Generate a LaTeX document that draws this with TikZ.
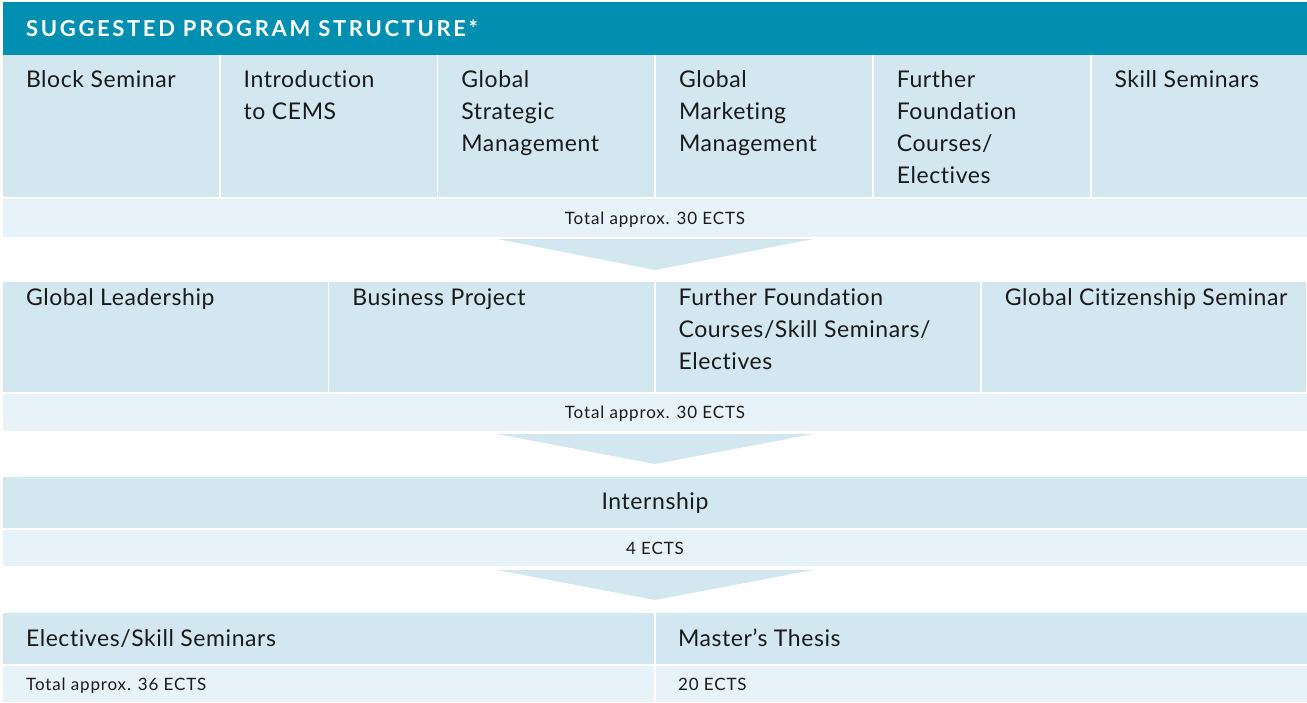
\documentclass[tikz,border=0pt]{standalone}
\usepackage{fontspec}
\setmainfont[Ligatures=NoCommon,LetterSpace=2.5]{Lato}
\newfontfamily\headfont[Ligatures=NoCommon,LetterSpace=12]{Lato}
\newfontfamily\smallfont[Ligatures=NoCommon,LetterSpace=5]{Lato}
\usetikzlibrary{positioning,calc}
\definecolor{cmHead}{HTML}{008EB1}
\definecolor{cmCell}{HTML}{D2E7F0}
\definecolor{cmTotal}{HTML}{E7F3F9}
\definecolor{cmInk}{HTML}{1A1A1A}
\newcommand{\bodysize}{\fontsize{23}{32}\selectfont}
\newcommand{\smallsize}{\smallfont\fontsize{17}{20}\selectfont}

\begin{document}
\begin{tikzpicture}[x=1pt,y=-1pt,
  box/.style={inner sep=0pt,outer sep=0pt,anchor=north west},
  cell/.style={box,fill=cmCell},
  total/.style={box,fill=cmTotal},
  lbl/.style={box,font=\bodysize,align=left,text=cmInk},
  sml/.style={inner sep=0pt,font=\smallsize,text=cmInk,anchor=base},
  chev/.style={fill=cmCell}
]
\useasboundingbox[fill=white] (0,0) rectangle (1307,702);
% header
\node[box,fill=cmHead,minimum width=1304pt,minimum height=53pt] (head) at (3,2) {};
\node[anchor=base west,inner sep=0pt,text=white,
      font=\headfont\bfseries\fontsize{22}{24}\selectfont] (title) at (26,36) {SUGGESTED PROGRAM STRUCTURE*};
% first block
\foreach \i/\txt in {0/{Block Seminar},1/{Introduction\\to CEMS},2/{Global\\Strategic\\Management},
                     3/{Global\\Marketing\\Management},4/{Further\\Foundation\\Courses/\\Electives},5/{Skill Seminars}}{
  \node[cell,minimum width=215.9pt,minimum height=142pt] (a\i) at (3+\i*217.7,55) {};
  \node[lbl] (at\i) at ($(a\i.north west)+(23,16)$) {\txt};
}
\node[total,minimum width=1304pt,minimum height=38pt] (s1) at (3,199) {};
\node[sml] (s1t) at ($(s1.center)+(0,6.3)$) {Total approx. 30 ECTS};
\fill[chev] ($(s1.south)+(-158,2)$) -- ($(s1.south)+(158,2)$) -- ($(s1.south)+(0,33)$) -- cycle;
% second block
\foreach \i/\txt in {0/{Global Leadership},1/{Business Project},
                     2/{Further Foundation\\Courses/Skill Seminars/\\Electives},3/{Global Citizenship Seminar}}{
  \node[cell,minimum width=324.5pt,minimum height=110pt] (b\i) at (3+\i*326.3,282) {};
  \node[lbl] (bt\i) at ($(b\i.north west)+(23,7)$) {\txt};
}
\node[total,minimum width=1304pt,minimum height=37pt] (s2) at (3,394) {};
\node[sml] (s2t) at ($(s2.center)+(0,6.3)$) {Total approx. 30 ECTS};
\fill[chev] ($(s2.south)+(-158,3)$) -- ($(s2.south)+(158,3)$) -- ($(s2.south)+(0,33)$) -- cycle;
% internship
\node[cell,minimum width=1304pt,minimum height=51pt] (c0) at (3,477) {};
\node[lbl,anchor=base] (ct0) at ($(c0.center)+(0,6.5)$) {Internship};
\node[total,minimum width=1304pt,minimum height=36pt] (s3) at (3,530) {};
\node[sml] (s3t) at ($(s3.center)+(0,6.3)$) {4 ECTS};
\fill[chev] ($(s3.south)+(-158,4)$) -- ($(s3.south)+(158,4)$) -- ($(s3.south)+(0,34)$) -- cycle;
% last block
\node[cell,minimum width=651pt,minimum height=51pt] (d0) at (3,613) {};
\node[cell,minimum width=651pt,minimum height=51pt] (d1) at (656,613) {};
\node[lbl,anchor=base west] (dt0) at ($(d0.west)+(23,8)$) {Electives/Skill Seminars};
\node[lbl,anchor=base west] (dt1) at ($(d1.west)+(22,8)$) {Master’s Thesis};
\node[total,minimum width=651pt,minimum height=36pt] (e0) at (3,666) {};
\node[total,minimum width=651pt,minimum height=36pt] (e1) at (656,666) {};
\node[sml,anchor=base west] (et0) at ($(e0.west)+(23,6.5)$) {Total approx. 36 ECTS};
\node[sml,anchor=base west] (et1) at ($(e1.west)+(22,6.5)$) {20 ECTS};
\end{tikzpicture}
\end{document}
